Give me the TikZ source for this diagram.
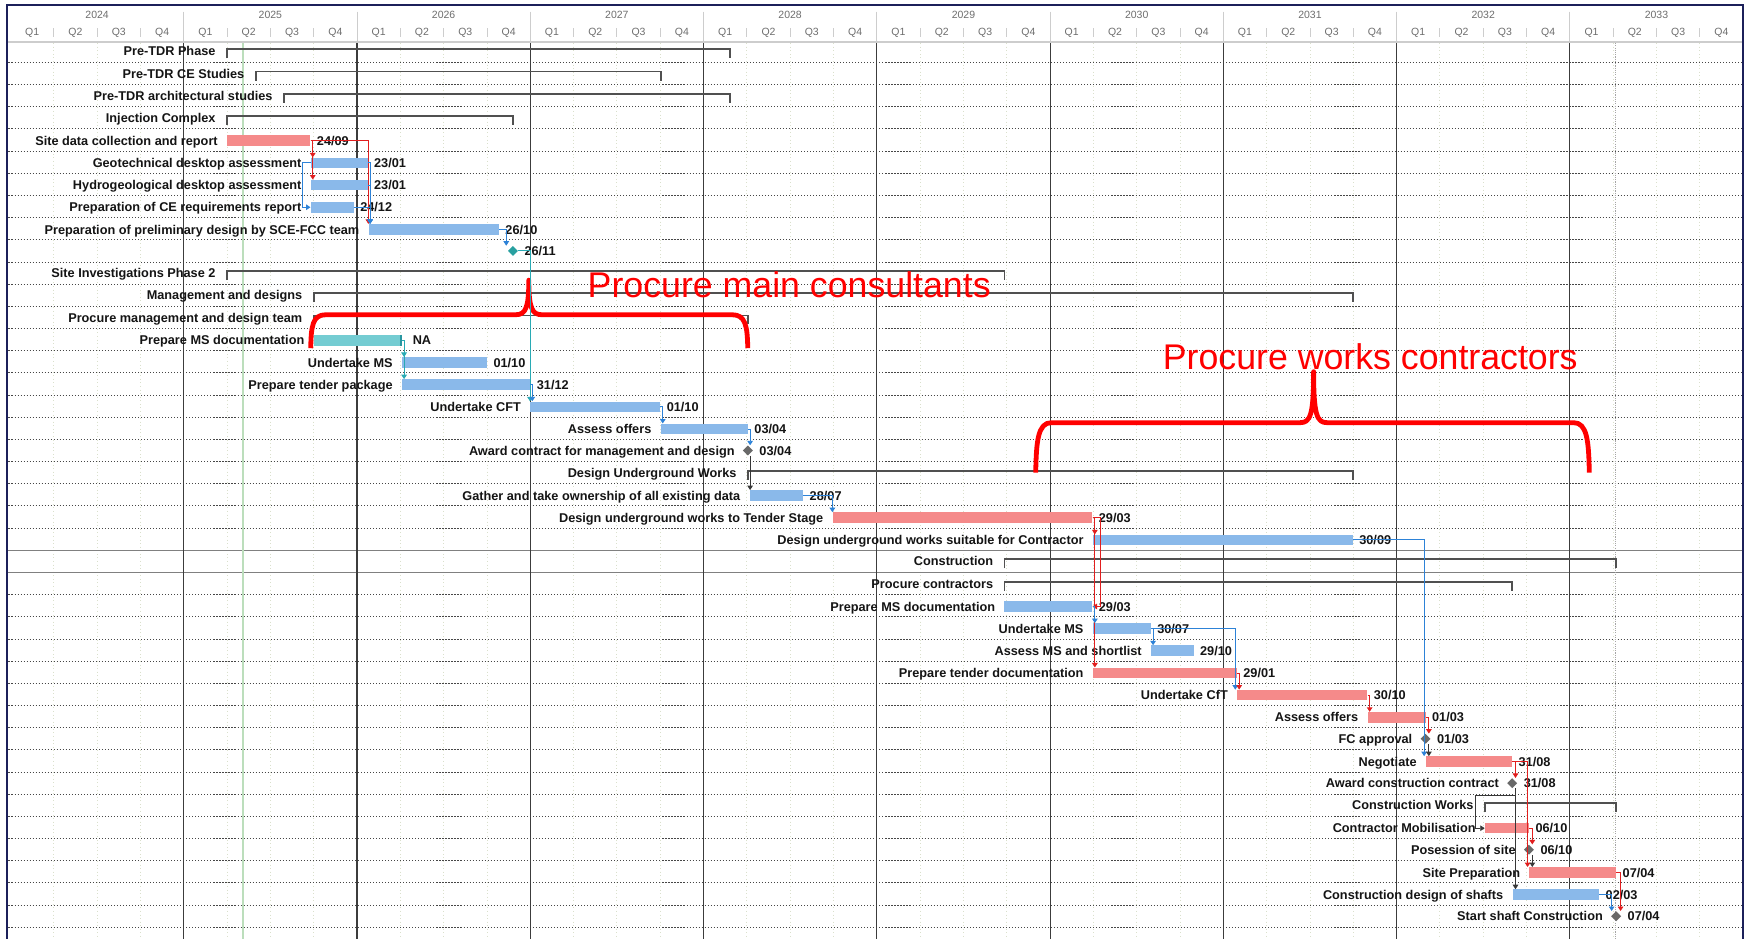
\documentclass[tikz,border=0pt]{standalone}
\usepackage{fontspec}
\setmainfont{Liberation Sans}
\usepackage{tikz}
\usetikzlibrary{arrows.meta,positioning,calc,shapes.geometric}
\definecolor{framecol}{RGB}{28,32,90}
\definecolor{hdrgray}{RGB}{110,110,110}
\definecolor{hdrline}{RGB}{205,205,205}
\definecolor{qline}{RGB}{218,224,204}
\definecolor{yrline}{RGB}{60,60,60}
\definecolor{rowdot}{RGB}{70,70,70}
\definecolor{nowgreen}{RGB}{188,222,188}
\definecolor{sumgray}{RGB}{80,80,80}
\definecolor{redbar}{RGB}{245,138,138}
\definecolor{bluebar}{RGB}{138,185,234}
\definecolor{tealbar}{RGB}{116,204,210}
\definecolor{tealdark}{RGB}{40,150,160}
\definecolor{redlnk}{RGB}{225,30,30}
\definecolor{bluelnk}{RGB}{45,130,215}
\definecolor{teallnk}{RGB}{40,170,180}
\definecolor{darklnk}{RGB}{55,55,55}
\definecolor{msgray}{RGB}{105,105,105}
\definecolor{msteal}{RGB}{40,160,160}
\definecolor{annred}{RGB}{255,0,0}
\tikzset{
  hdrtxt/.style={font=\fontsize{9.4}{10}\selectfont, text=hdrgray, inner sep=0pt, text height=6.7pt, text depth=0pt},
  tasklbl/.style={font=\fontsize{11.4}{12}\selectfont\bfseries, text=black!92, inner sep=0pt, text height=8.2pt, text depth=0pt},
  taskbar/.style={rectangle, inner sep=0pt, minimum height=9.5pt, yshift=-0.6pt},
  mstone/.style={diamond, inner sep=0pt, minimum size=9pt},
  sumln/.style={line width=1.7pt, draw=sumgray},
  lnk/.style={line width=0.8pt, -{Triangle[length=4pt,width=5pt]}},
  brace/.style={line width=4.3pt, annred, line join=round},
  anntxt/.style={font=\fontsize{32}{38}\selectfont, text=annred, inner sep=0pt},
  rowdotln/.style={rowdot, line width=0.9pt, dash pattern=on 1pt off 1.7pt},
  qgridln/.style={qline, line width=0.8pt, dash pattern=on 1pt off 2.2pt},
}
% bar: name, row, start, end, fill, label, date
\newcommand{\ganttbar}[7]{%
  \node[taskbar, fill=#5, minimum width={(#4-#3)*155.24pt}] (#1) at ({(#3+#4)/2},#2) {};
  \node[tasklbl, left=8pt of #1] (#1-l) {#6};
  \node[tasklbl, right=5.5pt of #1] (#1-d) {#7};
}
% summary: name, row, start, end, label
\newcommand{\ganttsum}[5]{%
  \coordinate (#1) at (#3,#2);
  \coordinate (#1-e) at (#4,#2);
  \draw[sumln] ([yshift=-6.3pt]#1) -- ([yshift=1.8pt]#1) -- ([yshift=1.8pt]#1-e) -- ([yshift=-6.3pt]#1-e);
  \node[tasklbl, left=10pt of #1] (#1-l) {#5};
}
% milestone: name, row, at, fill, label, date
\newcommand{\ganttms}[6]{%
  \node[mstone, fill=#4] (#1) at (#3,#2) {};
  \node[tasklbl, left=7pt of #1] (#1-l) {#5};
  \node[tasklbl, right=5.5pt of #1] (#1-d) {#6};
}

\begin{document}
\begin{tikzpicture}[x=1pt, y=-1pt]
  \useasboundingbox (0,0) rectangle (1568,841);
  \fill[white] (0,0) rectangle (1568,841);
  % grid
  \foreach \i in {0,...,9} {
    \foreach \q in {1,2,3}
      \draw[qgridln] ({9.4+(\i+\q/4)*155.24},38.6) -- ({9.4+(\i+\q/4)*155.24},841);
  }
  \foreach \r in {1,...,22}
    \draw[rowdotln] (7.6,{26.13+(\r+0.5)*19.87}) -- (1560.7,{26.13+(\r+0.5)*19.87});
  \foreach \r in {25,...,40}
    \draw[rowdotln] (7.6,{26.13+(\r+0.5)*19.87}) -- (1560.7,{26.13+(\r+0.5)*19.87});
  \foreach \r in {23,24}
    \draw[gray, line width=1.1pt] (7.6,{26.13+(\r+0.5)*19.87}) -- (1560.7,{26.13+(\r+0.5)*19.87});
  \foreach \i in {1,...,9}
    \draw[yrline, line width=1pt] ({9.4+\i*155.24},38.6) -- ({9.4+\i*155.24},841);
  \draw[nowgreen, line width=1.8pt] (217.7,38.6) -- (217.7,841);
  \draw[gray!70, line width=1pt, dash pattern=on 1pt off 1pt] (1447.6,38.6) -- (1447.6,841);
  % header
  \foreach \yr [count=\i from 0] in {2024,...,2033} {
    \node[hdrtxt] (yr\yr) at ({9.4+(\i+0.5)*155.24},13.4) {\yr};
    \foreach \q in {1,...,4}
      \node[hdrtxt] (q\yr-\q) at ({9.4+(\i+(\q-0.5)/4)*155.24},28.4) {Q\q};
    \foreach \q in {2,3,4}
      \draw[hdrline, line width=0.8pt] ({9.4+(\i+(\q-1)/4)*155.24},25.4) -- ++(0,7.5);
  }
  \foreach \i in {1,...,9}
    \draw[hdrline, line width=0.8pt] ({9.4+\i*155.24},10.5) -- ({9.4+\i*155.24},37.9);
  \draw[hdrline, line width=1.5pt] (7.6,37.9) -- (1560.7,37.9);
  \draw[framecol, line width=2pt] (6.6,841) -- (6.6,4.5) -- (1561.7,4.5) -- (1561.7,841);

  \begin{scope}[shift={(9.4,26.13)}, x=155.24pt, y=-19.87pt]
    \ganttsum{pretdr}{1}{1.249}{4.152}{Pre-TDR Phase}
    \ganttsum{cestud}{2}{1.415}{3.754}{Pre-TDR CE Studies}
    \ganttsum{archst}{3}{1.578}{4.152}{Pre-TDR architectural studies}
    \ganttsum{injcx}{4}{1.249}{2.899}{Injection Complex}
    \ganttbar{sitedata}{5}{1.250}{1.731}{redbar}{Site data collection and report}{24/09}
    \ganttbar{geotech}{6}{1.733}{2.061}{bluebar}{Geotechnical desktop assessment}{23/01}
    \ganttbar{hydro}{7}{1.733}{2.061}{bluebar}{Hydrogeological desktop assessment}{23/01}
    \ganttbar{cereq}{8}{1.733}{1.981}{bluebar}{Preparation of CE requirements report}{24/12}
    \ganttbar{prelim}{9}{2.067}{2.819}{bluebar}{Preparation of preliminary design by SCE-FCC team}{26/10}
    \node[mstone, fill=msteal] (prelimdone) at (2.900,10) {};
    \node[tasklbl, right=5.5pt of prelimdone] (prelimdone-d) {26/11};
    \ganttsum{sip2}{11}{1.249}{5.737}{Site Investigations Phase 2}
    \ganttsum{mandes}{12}{1.750}{7.747}{Management and designs}
    \ganttsum{procmd}{13}{1.750}{4.256}{Procure management and design team}
    \ganttbar{msdoc}{14}{1.750}{2.258}{tealbar}{Prepare MS documentation}{\hspace*{4pt}NA}
    \draw[tealdark, line width=1.6pt] ([xshift=-0.8pt]msdoc.north east) -- ([xshift=-0.8pt]msdoc.south east);
    \ganttbar{undms}{15}{2.260}{2.750}{bluebar}{Undertake MS}{01/10}
    \ganttbar{tendpkg}{16}{2.260}{3.000}{bluebar}{Prepare tender package}{31/12}
    \ganttbar{cft}{17}{3.000}{3.750}{bluebar}{Undertake CFT}{01/10}
    \ganttbar{offers}{18}{3.753}{4.256}{bluebar}{Assess offers}{03/04}
    \ganttms{award}{19}{4.256}{msgray}{Award contract for management and design}{03/04}
    \ganttsum{dugw}{20}{4.256}{7.747}{Design Underground Works}
    \ganttbar{gather}{21}{4.266}{4.575}{bluebar}{Gather and take ownership of all existing data}{28/07}
    \ganttbar{tstage}{22}{4.745}{6.244}{redbar}{Design underground works to Tender Stage}{29/03}
    \ganttbar{forcon}{23}{6.247}{7.747}{bluebar}{Design underground works suitable for Contractor}{30/09}
    \ganttsum{constr}{24}{5.737}{9.267}{Construction}
    \ganttsum{proccon}{25}{5.737}{8.667}{Procure contractors}
    \ganttbar{cmsdoc}{26}{5.737}{6.244}{bluebar}{Prepare MS documentation}{29/03}
    \ganttbar{cundms}{27}{6.247}{6.581}{bluebar}{Undertake MS}{30/07}
    \ganttbar{cshort}{28}{6.583}{6.828}{bluebar}{Assess MS and shortlist}{29/10}
    \ganttbar{ctender}{29}{6.247}{7.078}{redbar}{Prepare tender documentation}{29/01}
    \ganttbar{ccft}{30}{7.080}{7.831}{redbar}{Undertake CfT}{30/10}
    \ganttbar{coffers}{31}{7.833}{8.167}{redbar}{Assess offers}{01/03}
    \ganttms{fcok}{32}{8.167}{msgray}{FC approval}{01/03}
    \ganttbar{negot}{33}{8.170}{8.667}{redbar}{Negotiate}{31/08}
    \ganttms{awardcc}{34}{8.667}{msgray}{Award construction contract}{31/08}
    \ganttsum{cworks}{35}{8.510}{9.267}{Construction Works}
    \ganttbar{mobil}{36}{8.510}{8.764}{redbar}{Contractor Mobilisation}{06/10}
    \ganttms{possess}{37}{8.764}{msgray}{Posession of site}{06/10}
    \ganttbar{siteprep}{38}{8.767}{9.267}{redbar}{Site Preparation}{07/04}
    \ganttbar{shafts}{39}{8.670}{9.169}{bluebar}{Construction design of shafts}{02/03}
    \ganttms{shaftgo}{40}{9.267}{msgray}{Start shaft Construction}{07/04}
  \end{scope}

  % hand-drawn braces
  \draw[brace] (278.4,312) .. controls (278.8,292) and (280,282) .. (292,282) -- (462,282)
    .. controls (471,282) and (473.8,276) .. (473.8,251)
    .. controls (473.8,276) and (476.6,282) .. (485.6,282) -- (656,282)
    .. controls (668,282) and (669.6,292) .. (670,312);
  \draw[brace] (928,423.5) .. controls (928.5,395) and (930,378.7) .. (942,378.7) -- (1165,378.7)
    .. controls (1174,378.7) and (1177,372) .. (1177,333)
    .. controls (1177,372) and (1180,378.7) .. (1189,378.7) -- (1410,378.7)
    .. controls (1422,378.7) and (1423.5,395) .. (1424,423.5);

  % links
  \draw[lnk, redlnk] (sitedata.east) -| ([xshift=2pt]geotech.north west);
  \draw[lnk, redlnk] (sitedata.east) -| ([xshift=2pt]hydro.north west);
  \draw[lnk, redlnk] (sitedata.east) -| (prelim.north west);
  \draw[lnk, bluelnk] (geotech.west) -- ++(-7pt,0) |- (cereq.west);
  \draw[lnk, bluelnk] (geotech.east) -| ([xshift=1.5pt]prelim.north west);
  \draw[lnk, bluelnk] (hydro.east) -| ([xshift=1.5pt]prelim.north west);
  \draw[lnk, bluelnk] (cereq.east) -| ([xshift=1.5pt]prelim.north west);
  \draw[lnk, bluelnk] (prelim.east) -| ([xshift=-6pt]prelimdone.north);
  \draw[lnk, teallnk] (prelimdone.east) -| (cft.north west);
  \draw[lnk, teallnk] (msdoc.east) -| ([xshift=2pt]undms.north west);
  \draw[lnk, teallnk] (msdoc.east) -| ([xshift=2pt]tendpkg.north west);
  \draw[lnk, bluelnk] (tendpkg.east) -| ([xshift=2pt]cft.north west);
  \draw[lnk, bluelnk] (cft.east) -| ([xshift=2pt]offers.north west);
  \draw[lnk, bluelnk] (offers.east) -| ([xshift=2pt]award.north);
  \draw[lnk, darklnk] ([xshift=2pt]award.south) -- ([xshift=2pt]award.south |- gather.north);
  \draw[lnk, bluelnk] (gather.east) -| (tstage.north west);
  \draw[lnk, redlnk] (tstage.east) -| ([xshift=2pt]forcon.north west);
  \draw[lnk, redlnk] (tstage.east) -| ([xshift=2pt]ctender.north west);
  \draw[lnk, redlnk] (tstage.east) -- ++(7pt,0) |- (cmsdoc.east);
  \draw[lnk, bluelnk] (cmsdoc.east) -| ([xshift=2pt]cundms.north west);
  \draw[lnk, bluelnk] (cundms.east) -| ([xshift=2pt]cshort.north west);
  \draw[lnk, bluelnk] (cundms.east) -| ([xshift=-1.5pt]ccft.north west);
  \draw[lnk, redlnk] (ctender.east) -| ([xshift=2pt]ccft.north west);
  \draw[lnk, bluelnk] (forcon.east) -| ([xshift=-1.5pt]negot.north west);
  \draw[lnk, redlnk] (ccft.east) -| ([xshift=2pt]coffers.north west);
  \draw[lnk, redlnk] (coffers.east) -| ([xshift=3pt]fcok.north);
  \draw[lnk, darklnk] ([xshift=3pt]fcok.south) -- ([xshift=3pt]fcok.south |- negot.north);
  \draw[lnk, redlnk] (negot.east) -| ([xshift=3pt]awardcc.north);
  \draw[lnk, redlnk] (negot.east) -| ([xshift=-1.5pt]siteprep.north west);
  \draw[lnk, redlnk] (mobil.east) -| ([xshift=3pt]possess.north);
  \draw[lnk, darklnk] ([xshift=3pt]possess.south) -- ([xshift=3pt]possess.south |- siteprep.north);
  \draw[lnk, darklnk] ([xshift=3pt]awardcc.south) -- ++(0,-6pt) -| ([xshift=-8pt]mobil.west) -- (mobil.west);
  \draw[lnk, darklnk] ([xshift=3pt]awardcc.south) -- ([xshift=3pt]awardcc.south |- shafts.north);
  \draw[lnk, redlnk] (siteprep.east) -| ([xshift=4pt]shaftgo.north);
  \draw[lnk, bluelnk] (shafts.east) -| ([xshift=-4pt]shaftgo.north);

  \node[anntxt, anchor=base west] (annmain) at (526.4,266.4) {Procure main consultants};
  \node[anntxt, anchor=base west] (annworks) at (1041.7,330.9) {Procure works contractors};
\end{tikzpicture}
\end{document}
